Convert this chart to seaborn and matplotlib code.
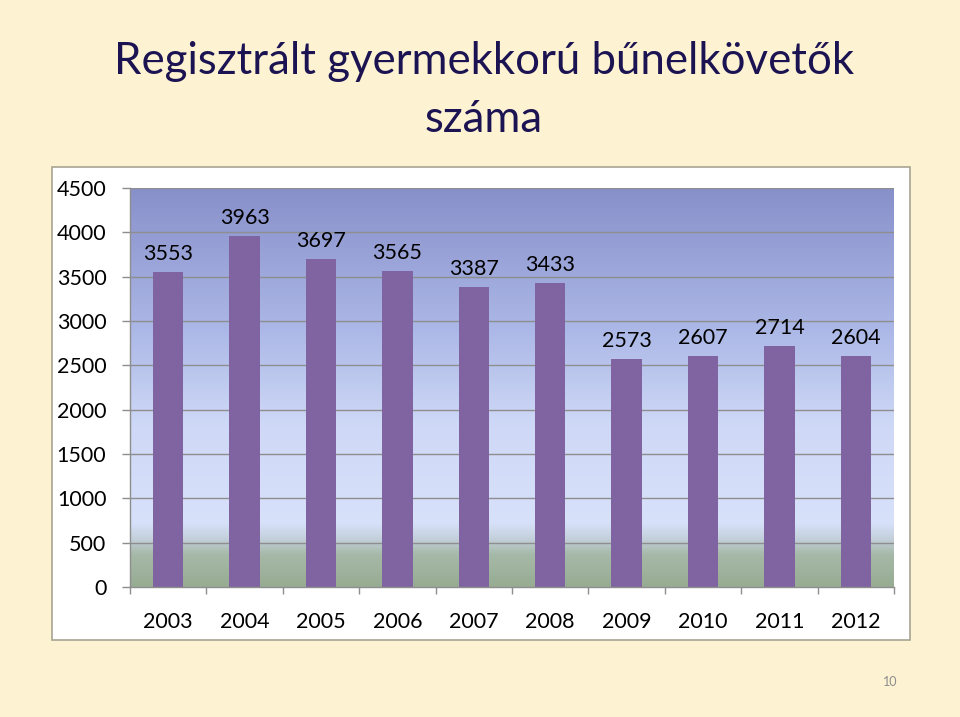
import numpy as np
import pandas as pd
import matplotlib
matplotlib.use("Agg")
import matplotlib.pyplot as plt
import seaborn as sns
from matplotlib.patches import Rectangle
from matplotlib.colors import LinearSegmentedColormap

years = ["2003", "2004", "2005", "2006", "2007", "2008", "2009", "2010", "2011", "2012"]
values = [3553, 3963, 3697, 3565, 3387, 3433, 2573, 2607, 2714, 2604]
yticks = [0, 500, 1000, 1500, 2000, 2500, 3000, 3500, 4000, 4500]
title_lines = ["Regisztrált gyermekkorú bűnelkövetők", "száma"]

sns.set_theme(style="white")
plt.rcParams['font.family'] = ['Lato', 'DejaVu Sans']

BG = "#FDF3D3"
BAR = "#8064A2"
fig = plt.figure(figsize=(9.6, 7.17), dpi=100, facecolor=BG)

# chart frame
fig.patches.append(Rectangle((52/960, 1-640/717), (910-52)/960, (640-167)/717,
                             transform=fig.transFigure, facecolor="white",
                             edgecolor="#A8A493", linewidth=1.2, zorder=-1))

ax = fig.add_axes([130/960, 130/717, 764/960, 399/717])
ax.set_zorder(2)
ax.set_facecolor("none")

df = pd.DataFrame({"year": years, "value": values})
sns.barplot(data=df, x="year", y="value", color=BAR, saturation=1, width=0.4,
            linewidth=0, edgecolor="none", ax=ax, zorder=3)

# gradient background
stops = [(0.0, "#97AC92"), (0.08, "#A6B9A8"), (0.12, "#C4D0DC"), (0.16, "#D7E1FA"),
         (0.4, "#CFD9F7"), (0.65, "#ABB7E6"), (1.0, "#8890CA")]
cmap = LinearSegmentedColormap.from_list("bg", stops)
grad = np.linspace(0, 1, 256).reshape(-1, 1)
ax.imshow(grad, cmap=cmap, aspect="auto", origin="lower",
          extent=(-0.5, len(years) - 0.5, 0, 4500), zorder=0)
ax.set_xlim(-0.5, len(years) - 0.5)
ax.set_ylim(0, 4500)

ax.set_yticks(yticks)
ax.set_yticklabels([str(t) for t in yticks])
for t in yticks[1:]:
    ax.axhline(t, color="#8E8E8E", linewidth=1.0, zorder=1)

for s in ["top", "right"]:
    ax.spines[s].set_visible(False)
for s in ["left", "bottom"]:
    ax.spines[s].set_color("#8E8E8E")
    ax.spines[s].set_linewidth(1.0)
    ax.spines[s].set_zorder(4)

ax.set_xticks(range(len(years)))
ax.set_xticklabels(years)
ax.set_xticks(np.arange(-0.5, len(years), 1), minor=True)
ax.tick_params(axis="x", which="major", length=0, pad=18, labelsize=15.5, labelcolor="black")
ax.tick_params(axis="x", which="minor", length=5, width=1, color="#8E8E8E", direction="out", bottom=True)
ax.tick_params(axis="y", length=6, width=1, color="#8E8E8E", direction="out", left=True,
               pad=11, labelsize=15.5, labelcolor="black")
ax.set_xlabel("")
ax.set_ylabel("")

for i, v in enumerate(values):
    ax.annotate(str(v), xy=(i, v), xytext=(0, 13), textcoords="offset points",
                ha="center", va="center", fontsize=15.5, color="black", zorder=5)

fig.text(484/960, 1-62/717, title_lines[0], ha="center", va="center", fontsize=31.5,
         color="#1C1452")
fig.text(484/960, 1-120/717, title_lines[1], ha="center", va="center", fontsize=31.5,
         color="#1C1452")
fig.text(890/960, 1-682/717, "10", ha="center", va="center", fontsize=9, color="#8C8C8C")

fig.savefig("out.png", dpi=100, facecolor=BG)
